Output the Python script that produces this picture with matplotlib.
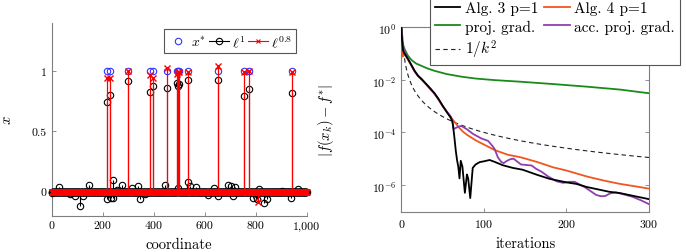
import numpy as np
import matplotlib
matplotlib.use("Agg")
import matplotlib.pyplot as plt
from matplotlib.ticker import FuncFormatter, FixedLocator, NullLocator
from matplotlib.lines import Line2D

plt.rcParams['font.family'] = 'serif'
plt.rcParams['font.serif'] = ['cmr10', 'DejaVu Serif']
plt.rcParams['mathtext.fontset'] = 'cm'
plt.rcParams['axes.formatter.use_mathtext'] = True
plt.rcParams['axes.unicode_minus'] = False

# ---------------- left panel data ----------------
n_coords = 1000
support_idx = [215, 229, 299, 385, 397, 454, 491, 496, 501, 533, 651, 756, 773, 942]
xstar_support = [1, 1, 1, 1, 1, 1, 1, 1, 1, 1, 1, 1, 1, 1]
l1_support = [0.74, 0.80, 0.92, 0.83, 0.88, 0.86, 0.90, 0.88, 0.89, 0.93, 0.93, 0.79, 0.85, 0.82]
l08_support = [0.94, 0.94, 1.00, 0.97, 0.94, 1.03, 0.98, 0.99, 0.99, 0.99, 1.04, 0.99, 1.00, 0.99]
l1_noise_idx = [1, 30, 72, 91, 111, 122, 148, 216, 231, 239, 240, 255, 276, 314, 337, 346,
                367, 443, 494, 536, 541, 565, 614, 638, 652, 691, 705, 710, 720, 791, 804,
                814, 833, 843, 903, 937, 967]
l1_noise_vals = [-0.01, 0.036, -0.02, -0.033, -0.12, -0.033, 0.058, -0.06, -0.05, -0.055, 0.10,
                 0.017, 0.058, 0.03, 0.044, -0.06, -0.02, 0.058, 0.03, 0.077, 0.044, 0.036,
                 -0.028, 0.028, -0.033, 0.058, 0.05, -0.033, 0.036, -0.052, -0.06, 0.022,
                 -0.094, -0.06, 0.008, -0.052, 0.022]
l08_extra_idx = [810]
l08_extra_vals = [-0.083]

# ---------------- right panel data ----------------
alg3_k = [0, 1, 2, 3, 5, 8, 12, 16, 20, 25, 30, 35, 40, 45, 50, 55, 60, 62, 64, 66, 67.5,
          69, 70.5, 72, 74, 77, 79.5, 81, 83.5, 86.5, 90, 95, 100, 107, 113, 123, 135, 147,
          165, 180, 200, 212, 225, 252, 265, 300]
alg3_log = [0, -0.5, -0.85, -0.95, -1.05, -1.2, -1.42, -1.65, -1.83, -1.98, -2.15, -2.32,
            -2.5, -2.72, -2.98, -3.22, -3.45, -3.6, -4.1, -4.7, -5.05, -5.3, -5.75, -5.08,
            -5.3, -6.3, -5.6, -5.75, -6.5, -5.35, -5.22, -5.13, -5.1, -5.05, -5.12, -5.25,
            -5.35, -5.42, -5.62, -5.77, -5.9, -5.96, -6.08, -6.26, -6.31, -6.54]

alg4_k = [0, 0.5, 1, 1.5, 2, 2.5, 3, 5, 8, 12, 16, 20, 25, 30, 35, 40, 45, 50, 55, 60, 65,
          70, 75, 80, 85, 90, 100, 113, 129, 145, 165, 184, 200, 225, 245, 265, 285, 300]
alg4_log = [0, -0.8, -1.12, -0.85, -1.1, -0.9, -1.05, -1.08, -1.22, -1.45, -1.68, -1.85,
            -2.0, -2.17, -2.35, -2.52, -2.75, -3.0, -3.22, -3.42, -3.62, -3.82, -3.98, -4.1,
            -4.2, -4.3, -4.46, -4.67, -4.85, -4.95, -5.13, -5.33, -5.45, -5.68, -5.83,
            -5.96, -6.06, -6.14]

pg_k = [0, 1, 2, 3, 5, 8, 12.5, 18, 24.6, 32, 40.7, 55, 73, 90, 113, 144, 184, 225, 265, 300]
pg_log = [0, -0.45, -0.62, -0.75, -0.9, -1.08, -1.25, -1.38, -1.47, -1.57, -1.66, -1.78,
          -1.88, -1.95, -2.01, -2.07, -2.16, -2.26, -2.37, -2.51]

apg_k = [0, 2, 5, 8, 12, 16, 20, 25, 30, 35, 40, 45, 50, 55, 60, 62, 63.5, 66.6, 70, 73, 79,
         87, 97, 105, 110, 113, 117, 121, 124, 128, 132, 136, 140, 145, 152, 158, 163, 170,
         178, 188, 196, 204, 210, 216, 222, 230, 236, 242, 247, 253, 260, 266, 272, 280,
         290, 300]
apg_log = [0, -0.75, -1.0, -1.2, -1.43, -1.66, -1.84, -2.0, -2.17, -2.34, -2.52, -2.74,
           -2.99, -3.2, -3.4, -3.6, -3.87, -3.82, -3.77, -3.76, -3.87, -4.06, -4.23, -4.32,
           -4.5, -4.63, -4.95, -5.12, -5.17, -5.08, -5.02, -5.0, -5.1, -5.22, -5.24, -5.26,
           -5.38, -5.5, -5.68, -5.86, -5.92, -5.88, -5.88, -5.98, -6.08, -6.25, -6.38,
           -6.43, -6.42, -6.32, -6.28, -6.33, -6.38, -6.45, -6.58, -6.73]

ref_k = np.arange(1, 301)
ref_vals = 1.0 / ref_k.astype(float) ** 2   # the 1/k^2 reference curve

# ---------------- build vectors ----------------
coords = np.arange(1, n_coords + 1)
x_star = np.zeros(n_coords)
l1 = np.zeros(n_coords)
l08 = np.zeros(n_coords)
for i, v in zip(support_idx, xstar_support):
    x_star[i - 1] = v
for i, v in zip(support_idx, l1_support):
    l1[i - 1] = v
for i, v in zip(l1_noise_idx, l1_noise_vals):
    l1[i - 1] = v
for i, v in zip(support_idx, l08_support):
    l08[i - 1] = v
for i, v in zip(l08_extra_idx, l08_extra_vals):
    l08[i - 1] = v

W, H = 686, 253
fig = plt.figure(figsize=(W / 100, H / 100), dpi=100)

gray = '#7f7f7f'
# ---------------- left axes ----------------
ax1 = fig.add_axes([51.7 / W, 1 - 216.7 / H, 255 / W, 192.7 / H])
ax1.set_xlim(0, 1000)
ax1.set_ylim(-0.2, 1.4)
nz = x_star != 0
ax1.plot(coords[nz], x_star[nz], 'o', mfc='none', mec='#3333ff', ms=4.6, mew=0.8, clip_on=False, zorder=2)
ax1.vlines(coords, 0, l1, colors='black', lw=0.8, zorder=3)
ax1.plot(coords, l1, 'o', mfc='none', mec='black', ms=4.6, mew=0.8, clip_on=False, zorder=3)
ax1.vlines(coords, 0, l08, colors='red', lw=0.9, zorder=4)
ax1.plot(coords, l08, 'x', color='red', ms=4.2, mew=1.0, clip_on=False, zorder=4)

for s in ['top', 'right']:
    ax1.spines[s].set_visible(False)
for s in ['left', 'bottom']:
    ax1.spines[s].set_color(gray)
    ax1.spines[s].set_linewidth(0.8)
ax1.set_xticks([0, 200, 400, 600, 800, 1000])
ax1.xaxis.set_major_formatter(FuncFormatter(lambda v, p: f"{int(v):,}"))
ax1.set_yticks([0, 0.5, 1])
ax1.set_yticklabels(['0', '0.5', '1'])
ax1.tick_params(direction='in', length=3, color=gray, labelsize=8.5, width=0.6)
ax1.set_xlabel('coordinate', fontsize=10.5, labelpad=5)
ax1.set_ylabel('$x$', fontsize=10.5, labelpad=13)

h1 = [Line2D([], [], ls='none', marker='o', mfc='none', mec='#3333ff', ms=4.6, mew=0.8),
      Line2D([], [], color='black', lw=0.8, marker='o', mfc='none', mec='black', ms=4.6, mew=0.8),
      Line2D([], [], color='red', lw=0.8, marker='x', ms=3.4, mew=0.8)]
leg1 = fig.legend(h1, ['$x^{*}$', r'$\ell^{1}$', r'$\ell^{0.8}$'], ncol=3,
                  loc='upper right', bbox_to_anchor=(296 / W, 1 - 30 / H),
                  bbox_transform=fig.transFigure, fontsize=10, handlelength=1.45,
                  handletextpad=0.2, columnspacing=0.2, borderpad=0.3,
                  fancybox=False, framealpha=1, edgecolor='#555555', borderaxespad=0)
leg1.get_frame().set_linewidth(0.8)

# ---------------- right axes ----------------
ax2 = fig.add_axes([401.3 / W, 1 - 213.3 / H, 247.7 / W, 185 / H])
ax2.set_yscale('log')
ax2.set_xlim(0, 300)
ax2.set_ylim(10 ** -7.04, 1)
lw = 1.3
l_a3, = ax2.plot(alg3_k, 10 ** np.array(alg3_log), color='black', lw=lw, zorder=5)
l_a4, = ax2.plot(alg4_k, 10 ** np.array(alg4_log), color='#f0561d', lw=lw, zorder=3)
l_pg, = ax2.plot(pg_k, 10 ** np.array(pg_log), color='#1a8a1a', lw=lw, zorder=3)
l_apg, = ax2.plot(apg_k, 10 ** np.array(apg_log), color='#8e3fae', lw=lw, zorder=4)
l_ref, = ax2.plot(ref_k, ref_vals, color='#222222', lw=0.8, ls=(0, (4, 3)), zorder=2)

for s in ax2.spines.values():
    s.set_color(gray)
    s.set_linewidth(0.8)
ax2.set_xticks([0, 100, 200, 300])
ax2.yaxis.set_major_locator(FixedLocator([1, 1e-2, 1e-4, 1e-6]))
ax2.yaxis.set_minor_locator(NullLocator())
ax2.set_yticklabels([r'$10^{0}$', r'$10^{-2}$', r'$10^{-4}$', r'$10^{-6}$'])
ax2.tick_params(direction='in', length=3, color=gray, labelsize=8.5, width=0.6,
                top=True, right=True)
ax2.set_xlabel('iterations', fontsize=10.5, labelpad=5)
ax2.set_ylabel(r'$|f(x_k)-f^{*}|$', fontsize=10.5, labelpad=26)

leg2 = fig.legend([l_a3, l_pg, l_ref, l_a4, l_apg],
                  ['Alg. 3 p=1', 'proj. grad.', '$1/k^{2}$', 'Alg. 4 p=1', 'acc. proj. grad.'],
                  ncol=2, loc='lower left', bbox_to_anchor=(430 / W, 1 - 66 / H),
                  bbox_transform=fig.transFigure, fontsize=11, handlelength=1.65,
                  handletextpad=0.32, columnspacing=0.4, labelspacing=0.3, borderpad=0.3,
                  fancybox=False, framealpha=1, edgecolor='#555555', borderaxespad=0)
leg2.get_frame().set_linewidth(0.8)
leg2.set_zorder(10)

fig.savefig('out.png', dpi=100)
